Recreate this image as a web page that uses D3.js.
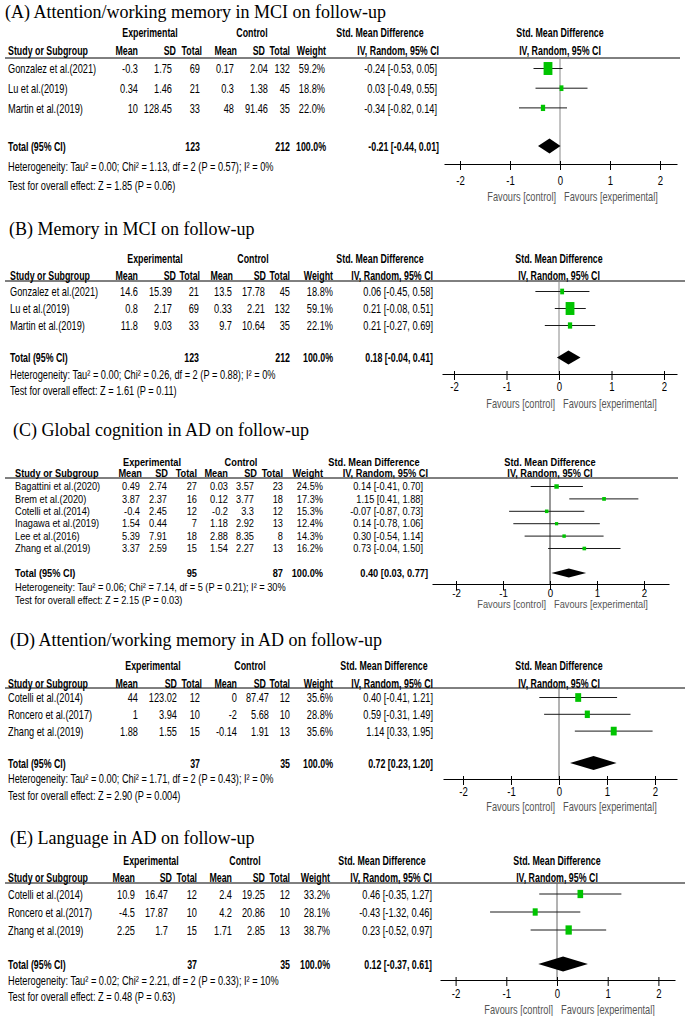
<!doctype html>
<html lang="en">

<head>
    <meta charset="UTF-8" />
    <script src="https://d3js.org/d3.v7.min.js"></script>
    <title>Forest plots on follow-up</title>
    <style>
        body { margin: 0; background: #fff; }
        svg { display: block; }
    </style>
</head>

<body>
    <div id="chart"></div>
    <script>
        // ---- data: one group of arrays per panel ----
        // exp / ctl rows are [mean, SD, total]; smd rows are [estimate, lower, upper]

        // (A)
        const studiesA = ["Gonzalez et al.(2021)", "Lu et al.(2019)", "Martin et al.(2019)"]
        const expA = [[-0.3, 1.75, 69], [0.34, 1.46, 21], [10, 128.45, 33]]
        const ctlA = [[0.17, 2.04, 132], [0.3, 1.38, 45], [48, 91.46, 35]]
        const weightA = [59.2, 18.8, 22.0]
        const smdA = [[-0.24, -0.53, 0.05], [0.03, -0.49, 0.55], [-0.34, -0.82, 0.14]]
        const totalA = [123, 212, -0.21, -0.44, 0.01]
        const statsA = ["Heterogeneity: Tau² = 0.00; Chi² = 1.13, df = 2 (P = 0.57); I² = 0%",
            "Test for overall effect: Z = 1.85 (P = 0.06)"]

        // (B)
        const studiesB = ["Gonzalez et al.(2021)", "Lu et al.(2019)", "Martin et al.(2019)"]
        const expB = [[14.6, 15.39, 21], [0.8, 2.17, 69], [11.8, 9.03, 33]]
        const ctlB = [[13.5, 17.78, 45], [0.33, 2.21, 132], [9.7, 10.64, 35]]
        const weightB = [18.8, 59.1, 22.1]
        const smdB = [[0.06, -0.45, 0.58], [0.21, -0.08, 0.51], [0.21, -0.27, 0.69]]
        const totalB = [123, 212, 0.18, -0.04, 0.41]
        const statsB = ["Heterogeneity: Tau² = 0.00; Chi² = 0.26, df = 2 (P = 0.88); I² = 0%",
            "Test for overall effect: Z = 1.61 (P = 0.11)"]

        // (C)
        const studiesC = ["Bagattini et al.(2020)", "Brem et al.(2020)", "Cotelli et al.(2014)",
            "Inagawa et al.(2019)", "Lee et al.(2016)", "Zhang et al.(2019)"]
        const expC = [[0.49, 2.74, 27], [3.87, 2.37, 16], [-0.4, 2.45, 12], [1.54, 0.44, 7], [5.39, 7.91, 18], [3.37, 2.59, 15]]
        const ctlC = [[0.03, 3.57, 23], [0.12, 3.77, 18], [-0.2, 3.3, 12], [1.18, 2.92, 13], [2.88, 8.35, 8], [1.54, 2.27, 13]]
        const weightC = [24.5, 17.3, 15.3, 12.4, 14.3, 16.2]
        const smdC = [[0.14, -0.41, 0.70], [1.15, 0.41, 1.88], [-0.07, -0.87, 0.73],
            [0.14, -0.78, 1.06], [0.30, -0.54, 1.14], [0.73, -0.04, 1.50]]
        const totalC = [95, 87, 0.40, 0.03, 0.77]
        const statsC = ["Heterogeneity: Tau² = 0.06; Chi² = 7.14, df = 5 (P = 0.21); I² = 30%",
            "Test for overall effect: Z = 2.15 (P = 0.03)"]

        // (D)
        const studiesD = ["Cotelli et al.(2014)", "Roncero et al.(2017)", "Zhang et al.(2019)"]
        const expD = [[44, 123.02, 12], [1, 3.94, 10], [1.88, 1.55, 15]]
        const ctlD = [[0, 87.47, 12], [-2, 5.68, 10], [-0.14, 1.91, 13]]
        const weightD = [35.6, 28.8, 35.6]
        const smdD = [[0.40, -0.41, 1.21], [0.59, -0.31, 1.49], [1.14, 0.33, 1.95]]
        const totalD = [37, 35, 0.72, 0.23, 1.20]
        const statsD = ["Heterogeneity: Tau² = 0.00; Chi² = 1.71, df = 2 (P = 0.43); I² = 0%",
            "Test for overall effect: Z = 2.90 (P = 0.004)"]

        // (E)
        const studiesE = ["Cotelli et al.(2014)", "Roncero et al.(2017)", "Zhang et al.(2019)"]
        const expE = [[10.9, 16.47, 12], [-4.5, 17.87, 10], [2.25, 1.7, 15]]
        const ctlE = [[2.4, 19.25, 12], [4.2, 20.86, 10], [1.71, 2.85, 13]]
        const weightE = [33.2, 28.1, 38.7]
        const smdE = [[0.46, -0.35, 1.27], [-0.43, -1.32, 0.46], [0.23, -0.52, 0.97]]
        const totalE = [37, 35, 0.12, -0.37, 0.61]
        const statsE = ["Heterogeneity: Tau² = 0.02; Chi² = 2.21, df = 2 (P = 0.33); I² = 10%",
            "Test for overall effect: Z = 0.48 (P = 0.63)"]

        const titles = ["(A) Attention/working memory in MCI on follow-up",
            "(B) Memory in MCI on follow-up",
            "(C) Global cognition in AD on follow-up",
            "(D) Attention/working memory in AD on follow-up",
            "(E) Language in AD on follow-up"]

        const tickValues = [-2, -1, 0, 1, 2]

        // ---- layout of each panel (pixel geometry, the source images differ a bit) ----
        const layouts = [
            { titleX: 5, titleY: 12, studyX: 8,
              cols: [138, 172, 200, 234, 268, 290, 325, 437], hdr: [138, 176, 202, 237, 265, 290, 326, 439], h1: [150, 252, 380],
              yH1: 32, yH2: 50, yLine: 58, row0: 68.5, step: 19.7, yTotal: 146, yHet: 166, yTest: 185,
              zero: 560, unit: 50, ax: [444, 677], yAxis: 164, yTick: 180, yFav: 196,
              fs: 13, sx: 0.71, sxB: 0.68, sq: [2.3, 20.3], sqW: 0.68, dH: 15, lineEnd: 680, zeroColor: "#888" },
            { titleX: 9, titleY: 229, studyX: 10,
              cols: [138, 172, 199, 232, 265, 290, 333, 433], hdr: [138, 176, 200, 233, 266, 290, 333, 433], h1: [155, 253, 380],
              yH1: 258, yH2: 275, yLine: 281, row0: 291.5, step: 17, yTotal: 357.5, yHet: 374, yTest: 390,
              zero: 559, unit: 52.5, ax: [442, 677], yAxis: 374, yTick: 386, yFav: 403,
              fs: 13, sx: 0.71, sxB: 0.68, sq: [2.3, 20.3], sqW: 0.68, dH: 14, lineEnd: 685, zeroColor: "#888" },
            { titleX: 13, titleY: 430, studyX: 15,
              cols: [140, 167, 197, 228, 254, 283, 323, 423], hdr: [142, 168, 197, 228, 257, 283, 323, 428], h1: [152, 241, 374],
              yH1: 462, yH2: 473, yLine: 478, row0: 486.5, step: 12.4, yTotal: 573, yHet: 587, yTest: 600,
              zero: 550, unit: 47, ax: [432, 669], yAxis: 584, yTick: 593, yFav: 604,
              fs: 10.5, sx: 0.88, sxB: 0.88, sq: [2, 12], sqW: 1, dH: 9, lineEnd: 678, zeroColor: "#333" },
            { titleX: 10, titleY: 640, studyX: 8,
              cols: [138, 177, 200, 237, 269, 290, 333, 433], hdr: [138, 177, 202, 237, 266, 290, 333, 433], h1: [153, 250, 384],
              yH1: 665, yH2: 683, yLine: 688, row0: 697.5, step: 16.8, yTotal: 763, yHet: 778, yTest: 795,
              zero: 559, unit: 48, ax: [443, 677], yAxis: 779, yTick: 791, yFav: 806,
              fs: 13, sx: 0.71, sxB: 0.68, sq: [2.3, 20.3], sqW: 0.68, dH: 14, lineEnd: 685, zeroColor: "#666" },
            { titleX: 10, titleY: 838, studyX: 8,
              cols: [135, 168, 197, 232, 265, 290, 330, 432], hdr: [135, 172, 197, 232, 265, 290, 330, 432], h1: [151, 245, 382],
              yH1: 860, yH2: 877, yLine: 883, row0: 894, step: 18, yTotal: 964, yHet: 980, yTest: 996,
              zero: 557, unit: 50.7, ax: [440, 675], yAxis: 980, yTick: 993, yFav: 1009,
              fs: 13, sx: 0.71, sxB: 0.68, sq: [2.3, 20.3], sqW: 0.68, dH: 15, lineEnd: 685, zeroColor: "#666" }
        ]

        const panels = [
            { studies: studiesA, exp: expA, ctl: ctlA, weight: weightA, smd: smdA, total: totalA, stats: statsA },
            { studies: studiesB, exp: expB, ctl: ctlB, weight: weightB, smd: smdB, total: totalB, stats: statsB },
            { studies: studiesC, exp: expC, ctl: ctlC, weight: weightC, smd: smdC, total: totalC, stats: statsC },
            { studies: studiesD, exp: expD, ctl: ctlD, weight: weightD, smd: smdD, total: totalD, stats: statsD },
            { studies: studiesE, exp: expE, ctl: ctlE, weight: weightE, smd: smdE, total: totalE, stats: statsE }
        ].map((d, i) => ({ ...d, title: titles[i], layout: layouts[i] }))

        const svg = d3.select("#chart")
            .append("svg")
            .attr("width", 685)
            .attr("height", 1016)
            .attr("font-family", "'Liberation Sans', Arial, sans-serif")

        svg.append("rect").attr("width", 685).attr("height", 1016).attr("fill", "#fff")

        const f2 = d => d.toFixed(2)
        const ciText = (est, lo, hi) => `${f2(est)} [${f2(lo)}, ${f2(hi)}]`

        panels.forEach(drawPanel)

        function drawPanel(p) {
            const L = p.layout
            const g = svg.append("g")

            // squeezed text, like the source screenshots
            const txt = (x, y, s, o = {}) => g.append("text")
                .attr("transform", `translate(${x},${y}) scale(${o.bold ? L.sxB : L.sx},1)`)
                .attr("text-anchor", o.anchor || "start")
                .attr("dominant-baseline", "central")
                .attr("font-size", L.fs)
                .attr("font-weight", o.bold ? "bold" : null)
                .attr("fill", o.fill || "#000")
                .text(s)

            g.append("text")
                .attr("x", L.titleX)
                .attr("y", L.titleY)
                .attr("dominant-baseline", "central")
                .attr("font-family", "'Liberation Serif', 'Times New Roman', serif")
                .attr("font-size", 18)
                .text(p.title)

            // headers
            txt(L.h1[0], L.yH1, "Experimental", { anchor: "middle", bold: true })
            txt(L.h1[1], L.yH1, "Control", { anchor: "middle", bold: true })
            txt(L.h1[2], L.yH1, "Std. Mean Difference", { anchor: "middle", bold: true })
            txt(L.zero, L.yH1, "Std. Mean Difference", { anchor: "middle", bold: true })

            txt(L.studyX, L.yH2, "Study or Subgroup", { bold: true })
            const heads = ["Mean", "SD", "Total", "Mean", "SD", "Total", "Weight", "IV, Random, 95% CI"]
            heads.forEach((h, i) => txt(L.hdr[i], L.yH2, h, { anchor: "end", bold: true }))
            txt(L.zero, L.yH2, "IV, Random, 95% CI", { anchor: "middle", bold: true })

            g.append("line")
                .attr("x1", 5).attr("x2", L.lineEnd)
                .attr("y1", L.yLine).attr("y2", L.yLine)
                .attr("stroke", "#000").attr("stroke-width", 1)

            // scales
            const x = d3.scaleLinear()
                .domain([(L.ax[0] - L.zero) / L.unit, (L.ax[1] - L.zero) / L.unit])
                .range(L.ax)
            const y = d3.scaleLinear().domain([0, 1]).range([L.row0, L.row0 + L.step])
            const size = d3.scaleLinear().domain([0, 100]).range(L.sq)

            // line of no effect
            g.append("line")
                .attr("x1", x(0)).attr("x2", x(0))
                .attr("y1", L.yLine).attr("y2", L.yAxis)
                .attr("stroke", L.zeroColor).attr("stroke-width", 1)

            // study rows
            p.studies.forEach((s, i) => {
                const yy = y(i)
                const vals = [...p.exp[i], ...p.ctl[i]].map(String)
                txt(L.studyX, yy, s)
                vals.forEach((v, j) => txt(L.cols[j], yy, v, { anchor: "end" }))
                txt(L.cols[6], yy, p.weight[i].toFixed(1) + "%", { anchor: "end" })
                txt(L.cols[7], yy, ciText(...p.smd[i]), { anchor: "end" })

                const [est, lo, hi] = p.smd[i]
                g.append("line")
                    .attr("x1", x(lo)).attr("x2", x(hi))
                    .attr("y1", yy).attr("y2", yy)
                    .attr("stroke", "#1a1a1a").attr("stroke-width", 1)
                const h = size(p.weight[i])
                const w = h * L.sqW
                g.append("rect")
                    .attr("x", x(est) - w / 2).attr("y", yy - h / 2)
                    .attr("width", w).attr("height", h)
                    .attr("fill", "#00c400")
            })

            // overall row
            const [nE, nC, est, lo, hi] = p.total
            txt(L.studyX, L.yTotal, "Total (95% CI)", { bold: true })
            txt(L.cols[2], L.yTotal, String(nE), { anchor: "end", bold: true })
            txt(L.cols[5], L.yTotal, String(nC), { anchor: "end", bold: true })
            txt(L.hdr[6], L.yTotal, "100.0%", { anchor: "end", bold: true })
            txt(L.hdr[7], L.yTotal, ciText(est, lo, hi), { anchor: "end", bold: true })

            g.append("polygon")
                .attr("points", [
                    [x(lo), L.yTotal], [x(est), L.yTotal - L.dH / 2],
                    [x(hi), L.yTotal], [x(est), L.yTotal + L.dH / 2]
                ].join(" "))
                .attr("fill", "#000")

            txt(L.studyX, L.yHet, p.stats[0])
            txt(L.studyX, L.yTest, p.stats[1])

            // axis
            const axis = g.append("g")
                .attr("transform", `translate(0,${L.yAxis})`)
                .call(d3.axisBottom(x)
                    .tickValues(tickValues)
                    .tickSize(6)
                    .tickSizeOuter(0)
                    .tickFormat(d => String(d)))
                .attr("font-family", null)
                .attr("font-size", null)

            axis.select(".domain").attr("stroke", "#000").attr("stroke-width", 1.2)
            axis.selectAll(".tick line").attr("y1", -3).attr("stroke", "#000")
            axis.selectAll(".tick text")
                .attr("y", L.yTick - L.yAxis)
                .attr("dy", "0.35em")
                .attr("font-size", L.fs + 0.5)
                .attr("fill", "#000")
                .attr("transform", `scale(${L.sx},1)`)

            txt(L.zero - 4, L.yFav, "Favours [control]", { anchor: "end", fill: "#555" })
            txt(L.zero + 4, L.yFav, "Favours [experimental]", { fill: "#555" })
        }
    </script>
</body>

</html>
